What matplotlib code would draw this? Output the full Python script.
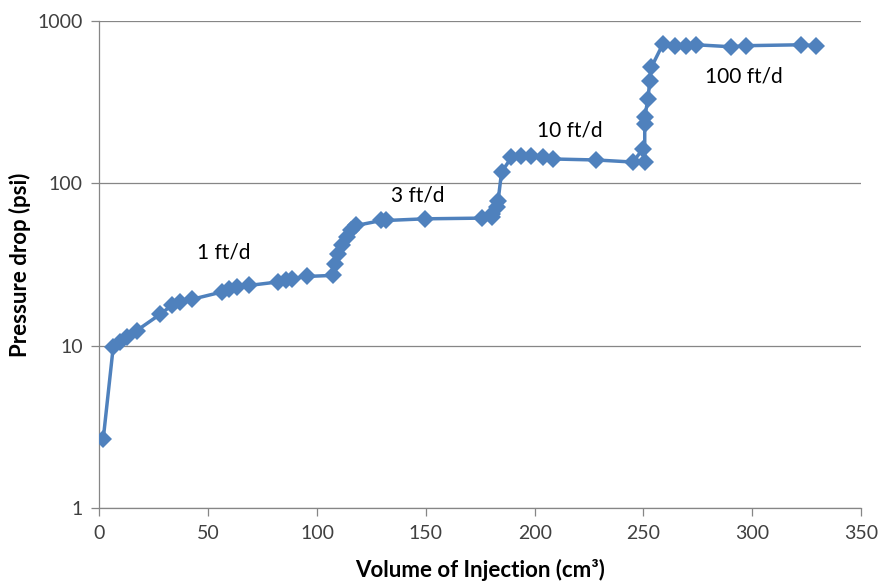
import matplotlib
matplotlib.use('Agg')
import matplotlib.pyplot as plt
from matplotlib.ticker import FixedLocator, NullLocator

plt.rcParams['font.family'] = ['Lato', 'DejaVu Sans']

# Объём закачки, см3
volume = [1.7, 6.3, 9.4, 12.5, 17.1, 27.8, 33.2, 37.0, 42.4, 56.1, 59.5, 63.0, 68.7,
          82.0, 85.5, 88.3, 95.2, 107.3, 108.2, 109.7, 111.3, 113.6, 115.8, 118.1,
          129.6, 131.9, 149.5, 175.6, 180.2, 180.6, 182.5, 183.2, 184.8, 189.3,
          193.9, 198.5, 203.9, 208.4, 228.4, 245.2, 249.8, 250.6, 250.6, 250.6,
          252.1, 252.9, 253.6, 259.0, 264.4, 269.7, 274.3, 290.4, 297.3, 322.6, 329.5]
# Перепад давления, psi
dp = [2.66, 9.8, 10.5, 11.3, 12.4, 15.6, 17.7, 18.6, 19.3, 21.4, 22.5, 23.0, 23.5,
      24.7, 25.3, 25.8, 26.7, 27.1, 31.9, 36.8, 41.4, 46.6, 51.3, 55.0,
      59.0, 59.0, 60.4, 61.0, 62.0, 64.9, 71.0, 78.0, 117.0, 144.0,
      148.0, 148.0, 144.0, 141.0, 139.0, 135.0, 163.0, 135.0, 232.0, 255.0,
      330.0, 428.0, 516.0, 720.0, 702.0, 702.0, 711.0, 691.0, 702.0, 711.0, 702.0]

rate_labels = ['1 ft/d', '3 ft/d', '10 ft/d', '100 ft/d']
rate_x = [57, 146.5, 216, 296]
rate_y = [37.5, 84, 211, 453]

fig = plt.figure(figsize=(8.79, 5.85), dpi=100)
ax = fig.add_axes([99.5 / 879, 1 - 508.3 / 585, (861 - 99.5) / 879, (508.3 - 20.7) / 585])

ax.plot(volume, dp, color='#4F81BD', linewidth=2.5, marker='D', markersize=9.5,
        markeredgewidth=0, zorder=3)

ax.set_yscale('log')
ax.set_xlim(0, 350)
ax.set_ylim(1, 1000)
ax.xaxis.set_major_locator(FixedLocator(range(0, 351, 50)))
ax.yaxis.set_major_locator(FixedLocator([1, 10, 100, 1000]))
ax.yaxis.set_minor_locator(NullLocator())
ax.set_yticklabels(['1', '10', '100', '1000'])

# Сетка только по оси Y
ax.grid(True, axis='y', color='#868686', linewidth=0.9)
for side in ['top', 'right']:
    ax.spines[side].set_visible(False)
for side in ['left', 'bottom']:
    ax.spines[side].set_color('#868686')
    ax.spines[side].set_linewidth(0.9)
ax.tick_params(direction='out', length=6, width=0.9, color='#868686',
               labelsize=14, labelcolor='#404040', pad=6)

for t, x, y in zip(rate_labels, rate_x, rate_y):
    ax.text(x, y, t, fontsize=15, ha='center', va='center', color='black')

ax.set_xlabel('Volume of Injection (cm³)', fontsize=16, fontweight='bold', labelpad=12)
ax.set_ylabel('Pressure drop (psi)', fontsize=16, fontweight='bold', labelpad=5)

fig.savefig('out.png', dpi=100)
